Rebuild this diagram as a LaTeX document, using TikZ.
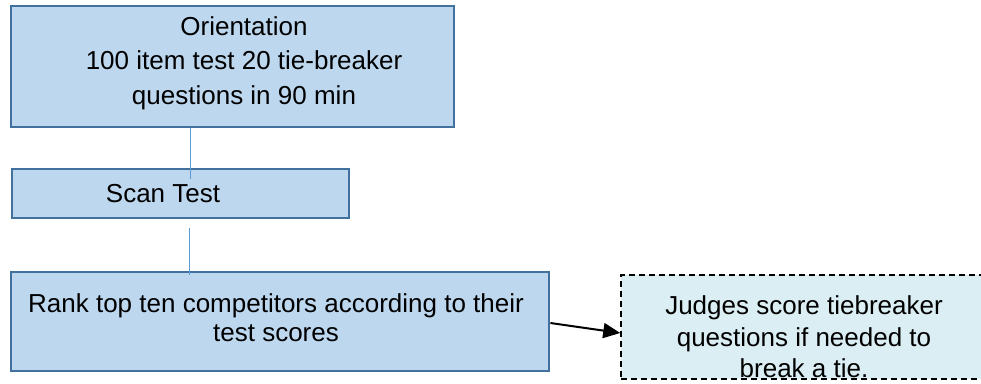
\documentclass[tikz,border=0pt]{standalone}
\usepackage{fontspec}
\setmainfont{Liberation Sans}
\usetikzlibrary{arrows.meta}
\definecolor{boxfill}{RGB}{189,215,238}
\definecolor{boxline}{RGB}{65,113,156}
\definecolor{notefill}{RGB}{218,238,243}
\definecolor{conn}{RGB}{91,155,213}
\tikzset{
  stepbox/.style={draw=boxline, fill=boxfill, line width=2.8pt, rectangle, inner sep=0pt},
  notebox/.style={draw=black, fill=notefill, line width=1.5pt, dash pattern=on 6pt off 4pt, rectangle, inner sep=0pt},
  txt/.style={align=center, inner sep=0pt, font=\fontsize{26}{34}\selectfont},
  link/.style={draw=conn, line width=1pt},
  arr/.style={draw=black, line width=2pt, -{Triangle[length=17pt,width=15pt]}}
}
\begin{document}
\begin{tikzpicture}[x=1pt,y=-1pt]
\clip (0,0) rectangle (981,383);
\fill[white] (0,0) rectangle (981,383);
% boxes
\node[stepbox, minimum width=443pt, minimum height=121pt] (b1) at (232.5,66.5) {};
\node[stepbox, minimum width=337pt, minimum height=49pt] (b2) at (180.5,193.5) {};
\node[stepbox, minimum width=538pt, minimum height=99pt] (b3) at (280,321.5) {};
\node[notebox, minimum width=440pt, minimum height=104pt] (b4) at (841,327) {};
% texts
\node[txt, font=\fontsize{26}{34.5}\selectfont] (t1) at (244,63) {Orientation\\100 item test 20 tie-breaker\\questions in 90 min};
\node[txt] (t2) at (163,194) {Scan Test};
\node[txt, font=\fontsize{26}{29.5}\selectfont] (t3) at (276,317.5) {Rank top ten competitors according to their\\test scores};
\node[txt, font=\fontsize{26}{31.5}\selectfont] (t4) at (804,337) {Judges score tiebreaker\\questions if needed to\\break a tie.};
% connectors
\coordinate (c1) at (190,179);
\coordinate (c2a) at (189,228);
\coordinate (c2b) at (189,275);
\draw[link] (b1.south -| c1) -- (c1);
\draw[link] (c2a) -- (c2b);
\draw[arr] ([yshift=-1.5pt]b3.east) -- (b4.west |- 0,333);
\end{tikzpicture}
\end{document}
